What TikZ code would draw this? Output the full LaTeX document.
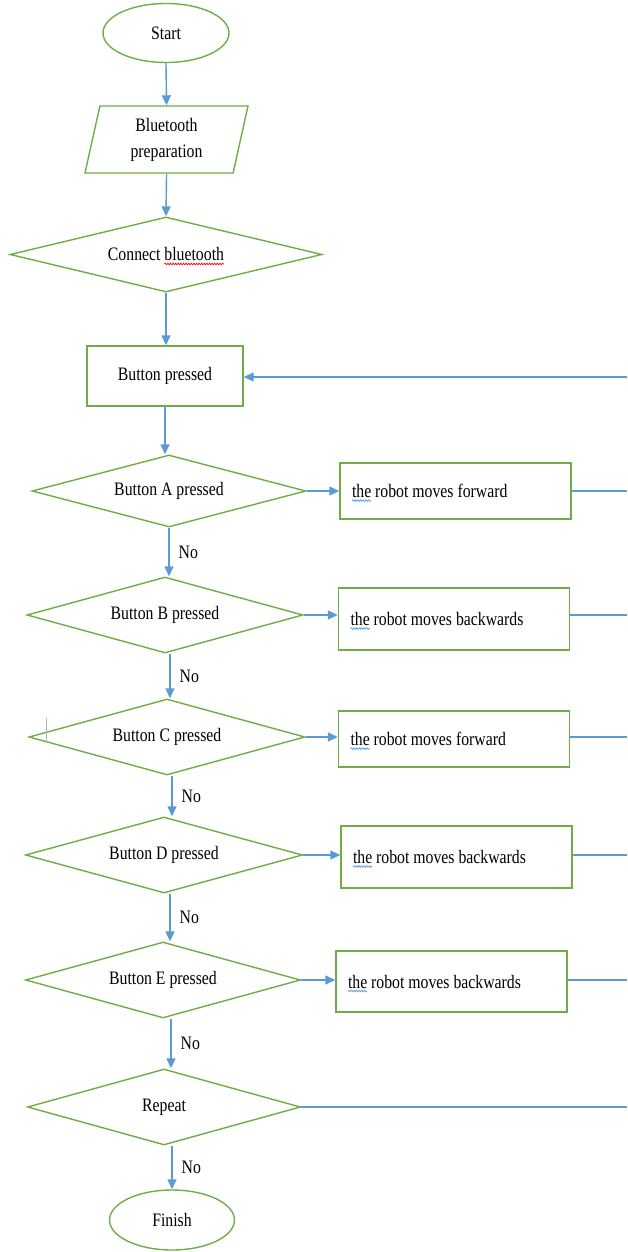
\documentclass[tikz,border=0pt]{standalone}
\usepackage{fontspec}
\setmainfont{Liberation Serif}[FakeStretch=0.83]
\usetikzlibrary{shapes.geometric,arrows.meta,decorations.pathmorphing}
\definecolor{fgreen}{RGB}{112,173,71}
\definecolor{fblue}{RGB}{91,155,213}
\newcommand\wavyul[2]{\leavevmode\setbox0=\hbox{#2}\rlap{\usebox0}\tikz[baseline=0pt]{\useasboundingbox (0pt,0pt) rectangle (\wd0,\ht0); \draw[#1, line width=0.7pt, decorate, decoration={snake,amplitude=0.8pt,segment length=2.6pt}] (0pt,-3pt) -- (\wd0,-3pt);}}
\tikzset{
  term/.style={ellipse, draw=fgreen, line width=1.4pt, inner sep=0pt},
  decision/.style={diamond, draw=fgreen, line width=1.4pt, inner sep=0pt, aspect=3.6},
  proc/.style={rectangle, draw=fgreen, line width=1.4pt},
  io/.style={trapezium, trapezium left angle=71, trapezium right angle=109, draw=fgreen, line width=1.4pt, minimum height=67pt, minimum width=163pt, trapezium stretches body, align=center, inner sep=0pt},
  action/.style={proc, text width=207pt, inner xsep=12pt, align=left, execute at begin node={\spaceskip=0pt\xspaceskip=0pt\relax}},
  arr/.style={fblue, line width=1.4pt, -{Triangle[length=10pt,width=9pt]}},
  ln/.style={fblue, line width=1.4pt},
  lbl/.style={anchor=west, inner sep=0pt, xshift=9pt, text=black},
}
\begin{document}
\begin{tikzpicture}[x=1pt, y=-1pt, font=\fontsize{19}{26}\selectfont]
\useasboundingbox (0,0) rectangle (627,1252);
\fill[white] (0,0) rectangle (627,1252);

\node[term, minimum width=126pt, minimum height=59pt] (start) at (166,33) {Start};
\node[io] (bt) at (166.5,139.5) {Bluetooth\\preparation};
\node[decision, minimum width=312pt, minimum height=75pt] (conn) at (166,254.5) {Connect \wavyul{red}{bluetooth}};
\node[proc, minimum width=156pt, minimum height=60pt] (bp) at (165,376) {Button pressed};

\node[decision, minimum width=274pt, minimum height=72pt] (dA) at (169,491) {Button A pressed};
\node[decision, minimum width=276pt, minimum height=76pt] (dB) at (165,615) {Button B pressed};
\node[decision, minimum width=276pt, minimum height=76pt] (dC) at (167,737) {Button C pressed};
\node[decision, minimum width=277pt, minimum height=76pt] (dD) at (164,855) {Button D pressed};
\node[decision, minimum width=275pt, minimum height=76pt] (dE) at (163,980) {Button E pressed};
\node[decision, minimum width=273pt, minimum height=76pt] (dR) at (164,1107) {Repeat};
\node[term, minimum width=125pt, minimum height=60pt] (fin) at (172,1220) {Finish};

\node[action, minimum height=56pt] (aA) at (455.5,491) {\wavyul{fblue}{the} robot moves forward};
\node[action, minimum height=62pt] (aB) at (454,619) {\wavyul{fblue}{the} robot moves backwards};
\node[action, minimum height=56pt] (aC) at (454,739) {\wavyul{fblue}{the} robot moves forward};
\node[action, minimum height=62pt] (aD) at (456.5,857) {\wavyul{fblue}{the} robot moves backwards};
\node[action, minimum height=61pt] (aE) at (451.5,981.5) {\wavyul{fblue}{the} robot moves backwards};

\coordinate (rTop) at (627,377);

\draw[arr] (start.south) -- (bt.north);
\draw[arr] (bt.south) -- (conn.north);
\draw[arr] (conn.south) -- (conn.south |- bp.north);
\draw[arr] (bp.south) -- (bp.south |- dA.north);
\draw[arr] (rTop) -- (bp.east |- rTop);

\draw[arr] (dA.south) -- node[lbl]{No} (dA.south |- dB.north);
\draw[arr] ([xshift=5pt]dB.south) -- node[lbl]{No} ([xshift=5pt]dB.south |- dC.north);
\draw[arr] ([xshift=5pt]dC.south) -- node[lbl]{No} ([xshift=5pt]dC.south |- dD.north);
\draw[arr] ([xshift=6pt]dD.south) -- node[lbl]{No} ([xshift=6pt]dD.south |- dE.north);
\draw[arr] ([xshift=8pt]dE.south) -- node[lbl]{No} ([xshift=8pt]dE.south |- dR.north);
\draw[arr] (dR.south -| fin.north) -- node[lbl]{No} (fin.north);

\foreach \d/\a in {dA/aA, dB/aB, dC/aC, dD/aD, dE/aE}{
  \draw[arr] (\d.east) -- (\d.east -| \a.west);
  \draw[ln] (\a.east |- \d.east) -- (\d.east -| rTop);
}
\draw[ln] (dR.east) -- (dR.east -| rTop);

\draw[gray!60, line width=0.8pt] (46,718) -- (46,742);
\end{tikzpicture}
\end{document}
